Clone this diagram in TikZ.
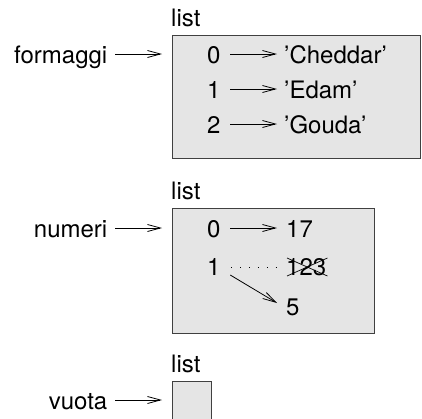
\documentclass[tikz,border=0pt]{standalone}
\usepackage{fontspec}
\setmainfont{TeX Gyre Heros}
\usetikzlibrary{arrows.meta,calc}
\begin{document}
\begin{tikzpicture}[x=1pt,y=-1pt,
  txt/.style={inner sep=0pt,anchor=base west,font=\fontsize{24}{28}\selectfont},
  lbl/.style={txt,anchor=base east},
  listbox/.style={draw=black!75,fill=black!10,line width=1.1pt,anchor=north west,inner sep=0pt},
  ref/.style={-{Straight Barb[length=13pt,width=7pt,line width=0.8pt]},line width=0.8pt},
  dotref/.style={line width=0.9pt,dash pattern=on 0.9pt off 8pt},
  strike/.style={line width=0.7pt,black},
  ]
\useasboundingbox (0,0) rectangle (422,418);
\clip (0,0) rectangle (422,418);

% ---- list 1 ----
\node[listbox,minimum width=248pt,minimum height=123pt] (b1) at (172,35) {};
\node[txt] (t1) at (171,26) {list};
\node[lbl] (formaggi) at (107.5,63) {formaggi};
\node[txt] (i10) at (207,63) {0};
\node[txt] (i11) at (207,98) {1};
\node[txt] (i12) at (207,133) {2};
\node[txt] (v10) at (284,63) {'Cheddar'};
\node[txt] (v11) at (284,98) {'Edam'};
\node[txt] (v12) at (284,133) {'Gouda'};
\draw[ref] ($(formaggi.base east)+(7.5,-9)$) -- ($(formaggi.base east -| b1.west)+(-10,-9)$);
\foreach \i in {0,1,2}{
  \draw[ref] ($(i1\i.base east)+(9.5,-9)$) -- ($(v1\i.base west)+(-7,-9)$);
}

% ---- list 2 ----
\node[listbox,minimum width=202pt,minimum height=125pt] (b2) at (172,208) {};
\node[txt] (t2) at (171,199) {list};
\node[lbl] (numeri) at (107.5,237) {numeri};
\node[txt] (i20) at (207,237) {0};
\node[txt] (i21) at (207,275) {1};
\node[txt] (v20) at (286,237) {17};
\node[txt] (v21) at (286,275) {123};
\node[txt] (v22) at (286,315) {5};
\draw[ref] ($(numeri.base east)+(7.5,-9)$) -- ($(numeri.base east -| b2.west)+(-10,-9)$);
\draw[ref] ($(i20.base east)+(9.5,-9)$) -- ($(v20.base west)+(-9,-9)$);
\draw[dotref] ($(i21.base east)+(10.5,-8)$) -- ($(v21.base west)+(-10,-8)$);
\draw[ref] ($(i21.base east)+(9.5,0)$) -- ($(v22.base west)+(-9,-12)$);
\draw[strike] ($(v21.base west)+(1,-17)$) -- ($(v21.base east)+(1,1)$);
\draw[strike] ($(v21.base west)+(1,1)$) -- ($(v21.base east)+(1,-17)$);

% ---- list 3 ----
\node[listbox,minimum width=39pt,minimum height=45pt] (b3) at (172,381) {};
\node[txt] (t3) at (171,372) {list};
\node[lbl] (vuota) at (107.5,409) {vuota};
\draw[ref] ($(vuota.base east)+(7.5,-9)$) -- ($(vuota.base east -| b3.west)+(-10,-9)$);
\end{tikzpicture}
\end{document}
